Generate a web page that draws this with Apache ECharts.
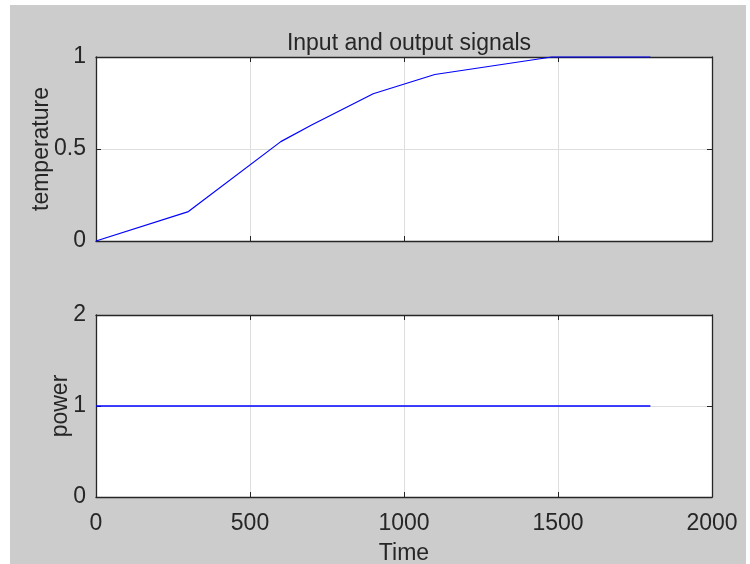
<!DOCTYPE html>
<html>
<head>
<meta charset="utf-8">
<script src="https://cdn.jsdelivr.net/npm/echarts@6/dist/echarts.min.js"></script>
<style>
  html, body { margin: 0; padding: 0; background: #ffffff; }
  #chart { width: 750px; height: 564px; }
</style>
</head>
<body>
<div id="chart"></div>
<script>
// Temperature response (upper panel)
var tempTime = [0, 300, 600, 700, 900, 1100, 1480, 1800];
var tempValue = [0, 0.16, 0.54, 0.63, 0.80, 0.905, 1.0, 1.0];

// Power input (lower panel)
var powerTime = [0, 1800];
var powerValue = [1, 1];

// Axis ticks
var timeTicks = [0, 500, 1000, 1500, 2000];
var tempTicks = [0, 0.5, 1];
var powerTicks = [0, 1, 2];

var FONT = 'Liberation Sans, Arial, Helvetica, sans-serif';
var INK = '#262626';
var GRID = '#dedede';
var FS = 23;

function pairs(xs, ys) {
  return xs.map(function (x, i) { return [x, ys[i]]; });
}

function boxAxis(opts) {
  // One side of a boxed axes: inward ticks, optional labels
  return Object.assign({
    type: 'value',
    axisLine: { show: true, onZero: false, lineStyle: { color: INK, width: 1.3 } },
    axisTick: { show: true, inside: true, length: 5, lineStyle: { color: INK, width: 1 } },
    splitLine: { show: false },
    axisLabel: { show: false },
    nameMoveOverlap: false
  }, opts);
}

var chart = echarts.init(document.getElementById('chart'), null, { renderer: 'canvas' });

chart.setOption({
  animation: false,
  backgroundColor: '#ffffff',
  graphic: [{
    type: 'rect', z: -100, silent: true,
    shape: { x: 10, y: 5, width: 736, height: 559 },
    style: { fill: '#cccccc' }
  }],
  title: {
    text: 'Input and output signals',
    left: 404, top: 27, textAlign: 'center',
    textStyle: { fontFamily: FONT, fontSize: FS, fontWeight: 'normal', color: INK }
  },
  grid: [
    { left: 96, top: 57, width: 616, height: 184, show: true, backgroundColor: '#ffffff',
      borderWidth: 0, containLabel: false, outerBoundsMode: 'none' },
    { left: 96, top: 315, width: 616, height: 182, show: true, backgroundColor: '#ffffff',
      borderWidth: 0, containLabel: false, outerBoundsMode: 'none' }
  ],
  xAxis: [
    boxAxis({ gridIndex: 0, min: 0, max: 2000, interval: 500, position: 'bottom',
      splitLine: { show: true, lineStyle: { color: GRID, width: 1 } } }),
    boxAxis({ gridIndex: 0, min: 0, max: 2000, interval: 500, position: 'top' }),
    boxAxis({ gridIndex: 1, min: 0, max: 2000, interval: 500, position: 'bottom',
      splitLine: { show: true, lineStyle: { color: GRID, width: 1 } },
      axisLabel: { show: true, margin: 15, color: INK, fontFamily: FONT, fontSize: FS,
        formatter: function (v) { return timeTicks.indexOf(v) >= 0 ? String(v) : ''; } },
      name: 'Time', nameLocation: 'middle', nameGap: 45,
      nameTextStyle: { fontFamily: FONT, fontSize: FS, color: INK } }),
    boxAxis({ gridIndex: 1, min: 0, max: 2000, interval: 500, position: 'top' })
  ],
  yAxis: [
    boxAxis({ gridIndex: 0, min: 0, max: 1, interval: 0.5, position: 'left',
      splitLine: { show: true, lineStyle: { color: GRID, width: 1 } },
      axisLabel: { show: true, margin: 10, color: INK, fontFamily: FONT, fontSize: FS,
        formatter: function (v) { return tempTicks.indexOf(v) >= 0 ? String(v) : ''; } },
      name: 'temperature', nameLocation: 'middle', nameGap: 43, nameRotate: 90,
      nameTextStyle: { fontFamily: FONT, fontSize: FS, color: INK } }),
    boxAxis({ gridIndex: 0, min: 0, max: 1, interval: 0.5, position: 'right' }),
    boxAxis({ gridIndex: 1, min: 0, max: 2, interval: 1, position: 'left',
      splitLine: { show: true, lineStyle: { color: GRID, width: 1 } },
      axisLabel: { show: true, margin: 10, color: INK, fontFamily: FONT, fontSize: FS,
        formatter: function (v) { return powerTicks.indexOf(v) >= 0 ? String(v) : ''; } },
      name: 'power', nameLocation: 'middle', nameGap: 24, nameRotate: 90,
      nameTextStyle: { fontFamily: FONT, fontSize: FS, color: INK } }),
    boxAxis({ gridIndex: 1, min: 0, max: 2, interval: 1, position: 'right' })
  ],
  series: [
    {
      type: 'line', xAxisIndex: 0, yAxisIndex: 0,
      data: pairs(tempTime, tempValue),
      showSymbol: false, symbol: 'none', clip: false, z: 5,
      lineStyle: { color: '#0000ff', width: 1.2 }
    },
    {
      type: 'line', xAxisIndex: 2, yAxisIndex: 2,
      data: pairs(powerTime, powerValue),
      showSymbol: false, symbol: 'none', z: 5,
      lineStyle: { color: '#0000ff', width: 1.5 }
    }
  ]
});
</script>
</body>
</html>
